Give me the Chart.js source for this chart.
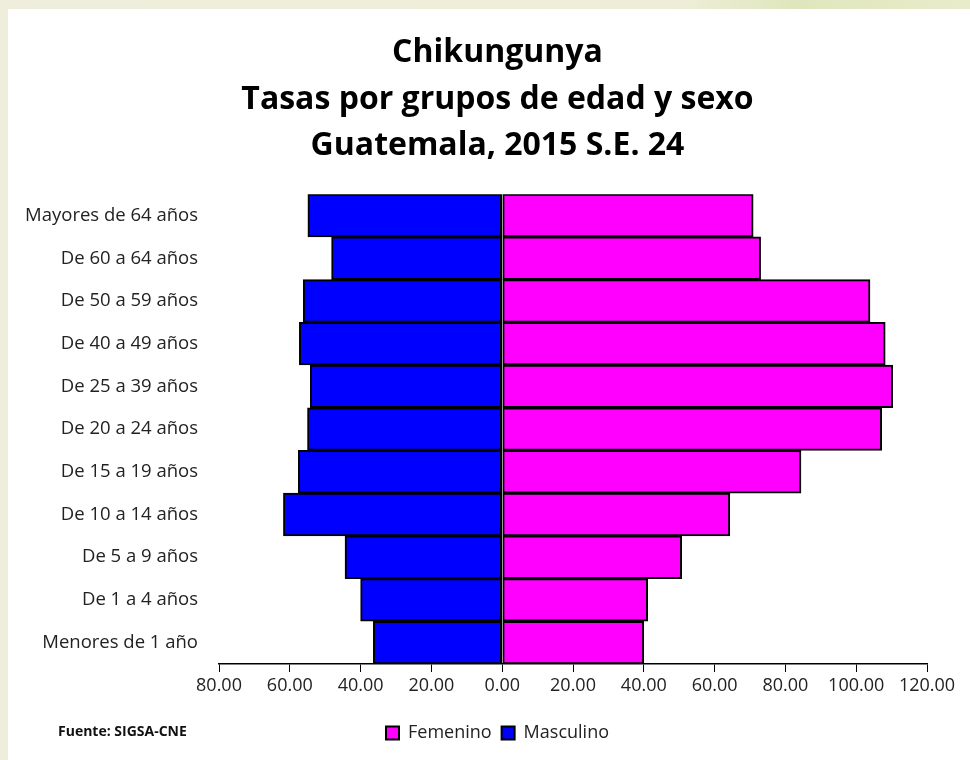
<!DOCTYPE html>
<html>
<head>
<meta charset="utf-8">
<script src="https://cdn.jsdelivr.net/npm/chart.js@4/dist/chart.umd.min.js"></script>
<style>
  html, body { margin: 0; padding: 0; }
  body {
    width: 970px; height: 760px; overflow: hidden; position: relative;
    background: linear-gradient(90deg, #efeedd 0%, #eeeed8 70%, #dfe6bd 82%, #e9ecca 100%);
  }
  #panel { position: absolute; left: 8px; top: 9px; width: 962px; height: 751px; background: #fff; }
  #fuente {
    position: absolute; left: 58px; top: 721px;
    font: bold 14px "Open Sans", sans-serif; color: #111;
  }
</style>
</head>
<body>
<div id="panel"><canvas id="chart" width="962" height="751"></canvas></div>
<div id="fuente">Fuente: SIGSA-CNE</div>
<script>
const grupos = [
  'Mayores de 64 años',
  'De 60 a 64 años',
  'De 50 a 59 años',
  'De 40 a 49 años',
  'De 25 a 39 años',
  'De 20 a 24 años',
  'De 15 a 19 años',
  'De 10 a 14 años',
  'De 5 a 9 años',
  'De 1 a 4 años',
  'Menores de 1 año',
]
const femenino = [70.9, 73.0, 103.9, 108.2, 110.3, 107.2, 84.4, 64.3, 50.7, 41.1, 40.0]
const masculino = [54.9, 48.2, 56.2, 57.3, 54.2, 55.0, 57.6, 61.8, 44.4, 40.0, 36.4]
const titulo = ['Chikungunya', 'Tasas por grupos de edad y sexo', 'Guatemala, 2015 S.E. 24']

// the left padding only moves title and legend to the right; let the
// category labels still use that space instead of being clipped
const unclipLabels = {
  id: 'unclipLabels',
  afterLayout(chart) {
    chart.scales.y.left = 0
  },
}

const ctx = document.getElementById('chart').getContext('2d')
const chart = new Chart(ctx, {
  type: 'bar',
  data: {
    labels: grupos,
    datasets: [
      {
        label: 'Femenino',
        data: femenino,
        backgroundColor: '#ff00ff',
        borderColor: '#000',
        borderWidth: 2,
        borderSkipped: false,
        barPercentage: 1,
        categoryPercentage: 1,
      },
      {
        label: 'Masculino',
        // men go to the left of zero
        data: masculino.map((v) => -v),
        backgroundColor: '#0000ff',
        borderColor: '#000',
        borderWidth: 2,
        borderSkipped: false,
        barPercentage: 1,
        categoryPercentage: 1,
      },
    ],
  },
  options: {
    indexAxis: 'y',
    responsive: false,
    animation: false,
    layout: { padding: { left: 60, right: 43, top: 0, bottom: 8 } },
    plugins: {
      title: {
        display: true,
        text: titulo,
        color: '#000',
        font: { family: 'Open Sans', size: 32, weight: 'bold', lineHeight: 1.45 },
        padding: { top: 21, bottom: 25 },
      },
      legend: {
        position: 'bottom',
        labels: {
          boxWidth: 13,
          boxHeight: 13,
          color: '#222',
          font: { family: 'Open Sans', size: 18 },
          padding: 10,
        },
      },
      tooltip: { enabled: false },
    },
    scales: {
      x: {
        stacked: true,
        min: -80,
        max: 120,
        ticks: {
          stepSize: 20,
          color: '#222',
          font: { family: 'Open Sans', size: 18 },
          padding: 3,
          maxRotation: 0,
          callback: function (value) {
            return Math.abs(value).toFixed(2)
          },
        },
        grid: { drawOnChartArea: false, drawTicks: true, tickLength: 8, color: '#000' },
        border: { display: true, color: '#000', width: 1.5 },
        afterFit: function (scale) {
          scale.height = 50
        },
      },
      y: {
        stacked: true,
        ticks: {
          color: '#222',
          font: { family: 'Open Sans', size: 18.5 },
          padding: 21,
          autoSkip: false,
        },
        grid: { display: false, drawTicks: false },
        border: { display: false },
        afterFit: function (scale) {
          scale.width = 151
        },
      },
    },
  },
  plugins: [unclipLabels],
})
</script>
</body>
</html>
